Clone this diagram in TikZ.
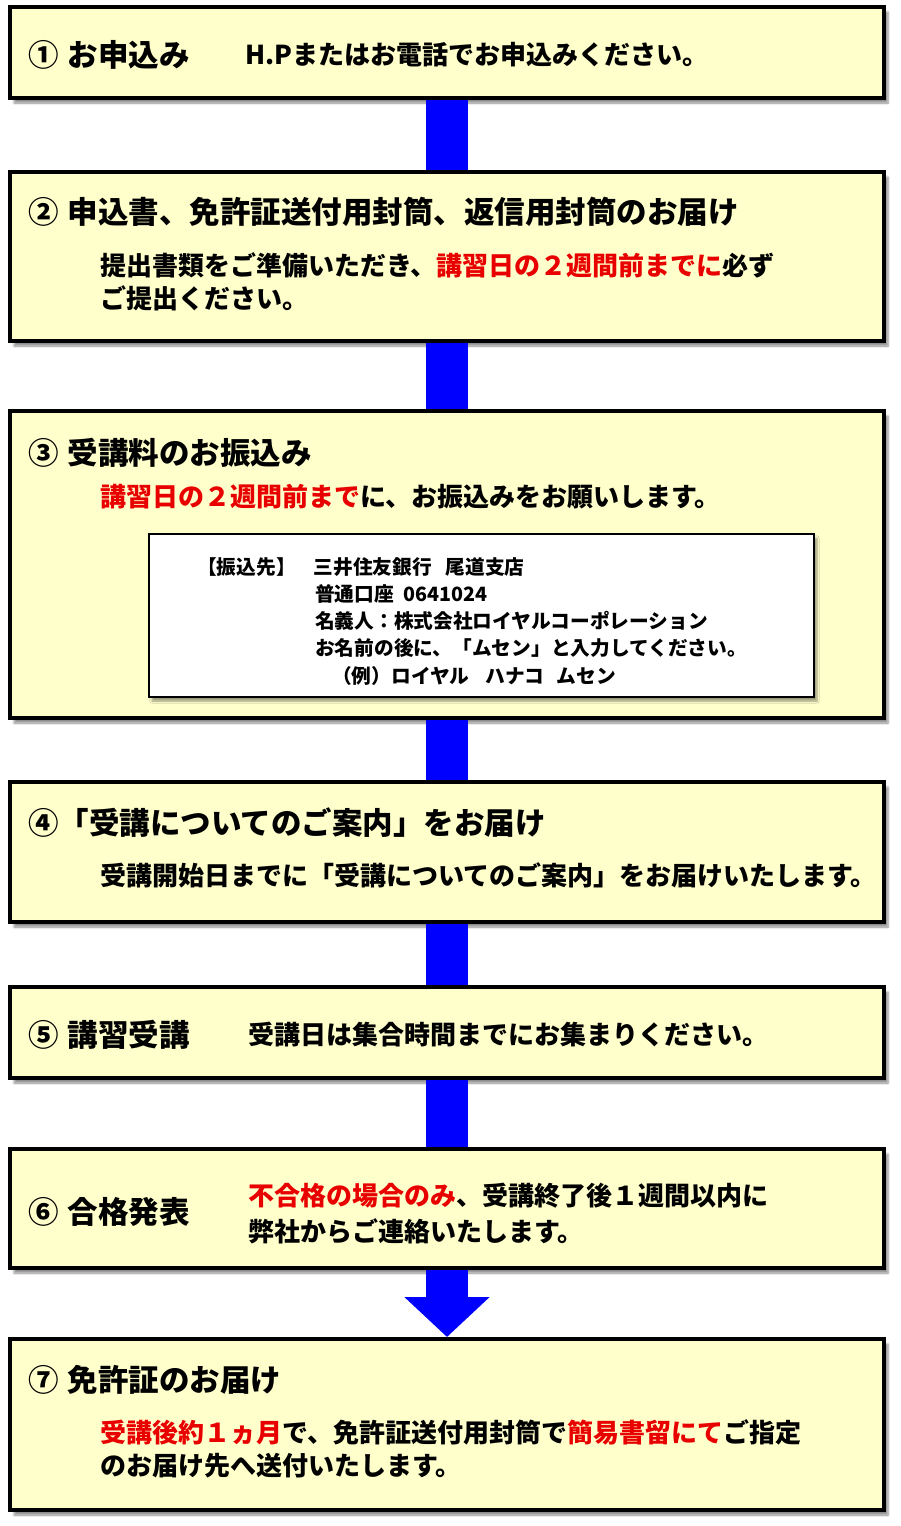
\documentclass[tikz,border=0pt]{standalone}
\usepackage{fontspec}
\setmainfont{Noto Sans CJK JP}
\usetikzlibrary{arrows.meta,shadows.blur}

\definecolor{boxfill}{RGB}{255,255,204}
\definecolor{notered}{RGB}{232,0,0}
\definecolor{flowblue}{RGB}{0,0,255}
\newcommand{\redtxt}[1]{\textcolor{notered}{#1}}

\tikzset{
	stepbox/.style={draw=black, line width=4pt, fill=boxfill, anchor=north west,
		inner sep=0pt, outer sep=0pt, minimum width=874pt,
		blur shadow={shadow xshift=4pt, shadow yshift=-5pt, shadow blur steps=6, shadow opacity=45}},
	bankbox/.style={draw=black, line width=2.5pt, fill=white, anchor=north west,
		inner sep=0pt, outer sep=0pt,
		blur shadow={shadow xshift=3pt, shadow yshift=-4pt, shadow blur steps=5, shadow opacity=40}},
	title/.style={anchor=west, inner sep=0pt, font=\fontsize{30.5}{36}\selectfont\bfseries},
	body/.style={anchor=west, inner sep=0pt, font=\fontsize{26}{32}\selectfont\bfseries},
	bank/.style={anchor=west, inner sep=0pt, font=\fontsize{19.7}{24}\selectfont\bfseries},
	flow/.style={draw=flowblue, line width=42pt, shorten <=2pt, shorten >=2pt}
}

\begin{document}
\begin{tikzpicture}[x=1pt, y=-1pt]
	\useasboundingbox (0,0) rectangle (900,1526);
	% step boxes
	\node[stepbox, minimum height=91pt] (box1) at (10,7) {};
	\node[stepbox, minimum height=169pt] (box2) at (10,172) {};
	\node[stepbox, minimum height=307pt] (box3) at (10,411) {};
	\node[stepbox, minimum height=140pt] (box4) at (10,782) {};
	\node[stepbox, minimum height=91pt] (box5) at (10,987) {};
	\node[stepbox, minimum height=119pt] (box6) at (10,1149) {};
	\node[stepbox, minimum height=171pt] (box7) at (10,1339) {};
	% connectors
	\draw[flow] (box1.south) -- (box2.north);
	\draw[flow] (box2.south) -- (box3.north);
	\draw[flow] (box3.south) -- (box4.north);
	\draw[flow] (box4.south) -- (box5.north);
	\draw[flow] (box5.south) -- (box6.north);
	\draw[flow, -{Triangle[width=83pt, length=40pt]}] (box6.south) -- (box7.north);
	% 1
	\node[title] (t1) at (28,55) {①\hspace{9pt}お申込み};
	\node[body] (d1) at (245,55) {H.Pまたはお電話でお申込みください。};
	% 2
	\node[title] (t2) at (28,212) {②\hspace{9pt}申込書、免許証送付用封筒、返信用封筒のお届け};
	\node[body] (d2a) at (100,265) {提出書類をご準備いただき、\redtxt{講習日の２週間前までに}必ず};
	\node[body] (d2b) at (100,298) {ご提出ください。};
	% 3
	\node[title] (t3) at (28,453) {③\hspace{9pt}受講料のお振込み};
	\node[body] (d3) at (100,497) {\redtxt{講習日の２週間前まで}に、お振込みをお願いします。};
	\node[bankbox, minimum width=665pt, minimum height=163pt] (bankinfo) at (149,534) {};
	\node[bank] (k1) at (197,567) {【振込先】\hspace{18pt}三井住友銀行\hspace{14pt}尾道支店};
	\node[bank] (k2) at (315,594) {普通口座\hspace{10pt}0641024};
	\node[bank] (k3) at (315,621) {名義人：株式会社ロイヤルコーポレーション};
	\node[bank] (k4) at (315,648) {お名前の後に、「ムセン」と入力してください。};
	\node[bank] (k5) at (332,676) {（例）ロイヤル\hspace{16pt}ハナコ\hspace{12pt}ムセン};
	% 4
	\node[title] (t4) at (28,823) {④「受講についてのご案内」をお届け};
	\node[body] (d4) at (100,875) {受講開始日までに「受講についてのご案内」をお届けいたします。};
	% 5
	\node[title] (t5) at (28,1035) {⑤\hspace{9pt}講習受講};
	\node[body] (d5) at (248,1035) {受講日は集合時間までにお集まりください。};
	% 6
	\node[title] (t6) at (28,1212) {⑥\hspace{9pt}合格発表};
	\node[body] (d6a) at (248,1196) {\redtxt{不合格の場合のみ}、受講終了後１週間以内に};
	\node[body] (d6b) at (248,1231) {弊社からご連絡いたします。};
	% 7
	\node[title] (t7) at (28,1380) {⑦\hspace{9pt}免許証のお届け};
	\node[body] (d7a) at (100,1432) {\redtxt{受講後約１ヵ月}で、免許証送付用封筒で\redtxt{簡易書留にて}ご指定};
	\node[body] (d7b) at (100,1466) {のお届け先へ送付いたします。};
\end{tikzpicture}
\end{document}
